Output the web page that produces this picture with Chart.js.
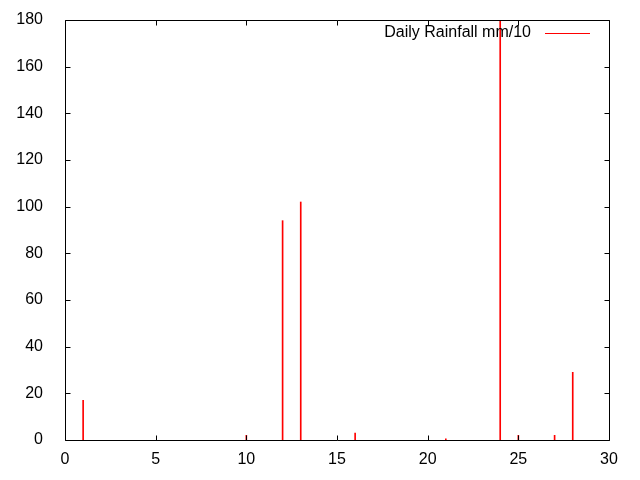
<!DOCTYPE html>
<html>
<head>
<meta charset="utf-8">
<script src="https://cdn.jsdelivr.net/npm/chart.js@4.4.0/dist/chart.umd.min.js"></script>
<style>
html, body { margin: 0; padding: 0; background: #fff; }
</style>
</head>
<body>
<canvas id="chart1" width="640" height="480"></canvas>
<script>
// day of month and rainfall (mm/10)
const days = [1, 10, 12, 13, 16, 21, 24, 25, 27, 28];
const rain = [17, 2, 94, 102, 3, 0.5, 200, 2, 2, 29];
const xTicks = [0, 5, 10, 15, 20, 25, 30];
const yTicks = [0, 20, 40, 60, 80, 100, 120, 140, 160, 180];
const seriesLabel = 'Daily Rainfall mm/10';

const font = { family: 'Liberation Sans', size: 16 };

// gnuplot style border with inward ticks on all four sides + key
const framePlugin = {
    id: 'frame',
    afterDraw(chart) {
        const ctx = chart.ctx;
        const a = chart.chartArea;
        const xs = chart.scales.x, ys = chart.scales.y;
        const L = Math.round(a.left) + 0.5, R = Math.round(a.right) + 0.5;
        const T = Math.round(a.top) + 0.5, B = Math.round(a.bottom) + 0.5;
        const tl = 5;
        ctx.save();
        ctx.strokeStyle = '#000';
        ctx.lineWidth = 1;
        ctx.beginPath();
        ctx.rect(L, T, R - L, B - T);
        yTicks.forEach(v => {
            const y = Math.round(ys.getPixelForValue(v)) + 0.5;
            ctx.moveTo(L, y); ctx.lineTo(L + tl, y);
            ctx.moveTo(R, y); ctx.lineTo(R - tl, y);
        });
        xTicks.forEach(v => {
            const x = Math.round(xs.getPixelForValue(v)) + 0.5;
            ctx.moveTo(x, B); ctx.lineTo(x, B - tl);
            ctx.moveTo(x, T); ctx.lineTo(x, T + tl);
        });
        ctx.stroke();

        // key
        ctx.font = font.size + 'px ' + font.family;
        ctx.fillStyle = '#000';
        ctx.textAlign = 'right';
        ctx.textBaseline = 'middle';
        ctx.fillText(seriesLabel, 531, 33);
        ctx.strokeStyle = '#ff0000';
        ctx.beginPath();
        ctx.moveTo(545, 33.5); ctx.lineTo(590, 33.5);
        ctx.stroke();
        ctx.restore();
    }
};

new Chart(document.getElementById('chart1'), {
    type: 'bar',
    data: {
        datasets: [{
            label: seriesLabel,
            data: days.map((d, i) => ({ x: d, y: rain[i] })),
            backgroundColor: '#ff0000',
            borderWidth: 0,
            barThickness: 1,
        }]
    },
    options: {
        responsive: false,
        animation: false,
        layout: { padding: { left: 0, right: 31, top: 20, bottom: 0 } },
        scales: {
            x: {
                type: 'linear',
                offset: false,
                min: 0,
                max: 30,
                afterBuildTicks: s => { s.ticks = xTicks.map(v => ({ value: v })); },
                afterFit: s => { s.height = 40; s.paddingLeft = 0; s.paddingRight = 0; },
                ticks: { color: '#000', font: font, padding: 2, maxRotation: 0 },
                grid: { display: false },
                border: { display: false },
            },
            y: {
                min: 0,
                max: 180,
                afterBuildTicks: s => { s.ticks = yTicks.map(v => ({ value: v })); },
                afterFit: s => { s.width = 65; s.paddingTop = 0; s.paddingBottom = 0; },
                ticks: { color: '#000', font: font, padding: 14 },
                grid: { display: false },
                border: { display: false },
            }
        },
        plugins: {
            legend: { display: false },
            tooltip: { enabled: false },
        }
    },
    plugins: [framePlugin]
});
</script>
</body>
</html>
